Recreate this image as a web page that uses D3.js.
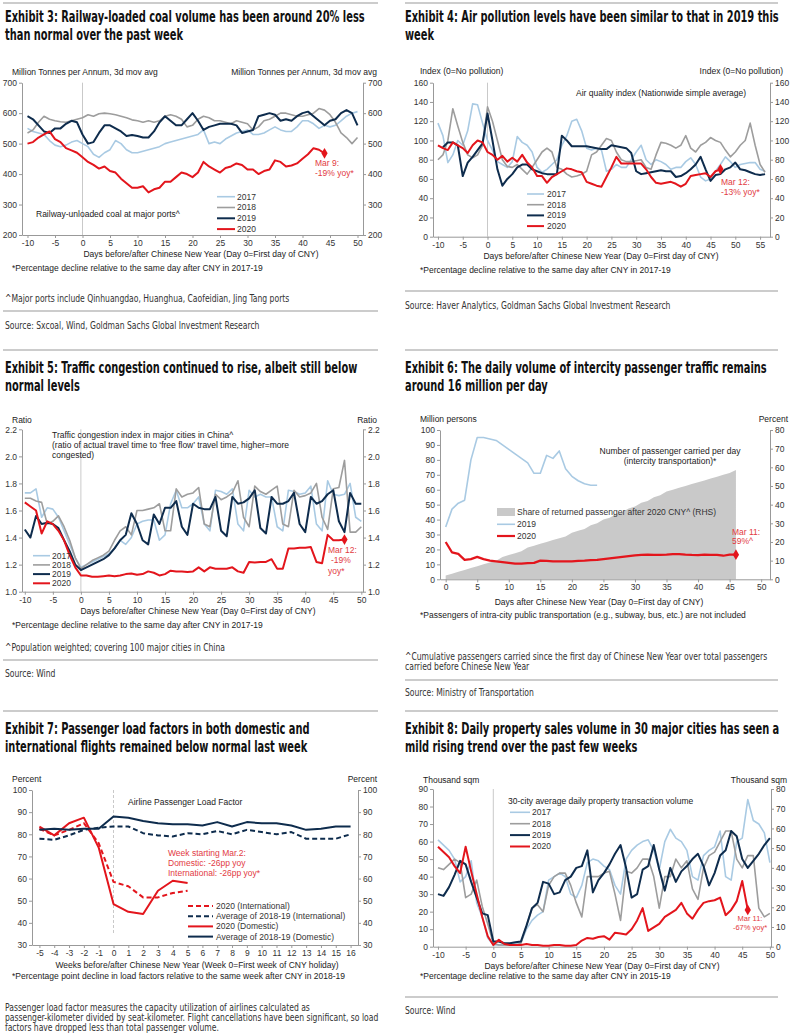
<!DOCTYPE html>
<html>
<head>
<meta charset="utf-8">
<script src="https://cdn.jsdelivr.net/npm/d3@7"></script>
<style>
body { margin: 0; background: #fff; }
svg { display: block; }
text { font-family: "Liberation Sans", Arial, sans-serif; fill: #222; }
.ttl { font-family: "Liberation Sans Narrow", "Arial Narrow", "DejaVu Sans Condensed", sans-serif; font-weight: bold; font-size: 15px; fill: #111; }
.src { font-family: "Liberation Sans Narrow", "Arial Narrow", "DejaVu Sans Condensed", sans-serif; font-size: 10px; fill: #333; }
</style>
</head>
<body>
<svg id="page"></svg>
<script>
// ---- data ----

// Exhibit 3: coal, Mt per annum, days -10..50
const coalDays = d3.range(-10, 51)
const coal2017 = [550,540,535,530,510,495,490,495,505,510, 500,490,465,455,470,480,510,500,480,470,
  470,475,480,485,490,500,505,510,515,520, 525,530,545,500,505,500,515,525,535,540,
  545,530,530,535,545,555,545,540,540,555, 575,575,565,550,560,555,560,575,590,600, 605]
const coal2018 = [535,545,570,590,580,575,572,570,575,580, 585,595,590,598,600,598,595,590,585,578,
  575,570,575,570,575,590,595,590,580,555, 560,580,590,585,575,575,570,565,575,570,
  565,545,555,575,580,590,600,600,595,590, 590,595,600,615,610,595,570,535,520,500, 520]
const coal2019 = [590,580,560,540,535,550,550,565,575,570, 530,500,505,535,560,560,550,540,525,528,
  525,520,520,540,570,590,575,560,560,580, 600,575,545,555,560,565,565,565,560,535,
  540,545,590,595,600,595,575,580,575,590, 600,605,590,575,560,575,580,600,610,600, 560]
const coal2020 = [500,505,520,530,540,515,505,485,478,470, 455,440,430,418,425,410,405,385,370,355,
  355,360,340,350,355,375,375,390,405,400, 390,405,440,425,415,405,420,425,435,430,
  415,415,400,410,415,445,440,425,428,435, 450,465,485,480,468]

// Exhibit 4: air quality index, days -10..56
const aqiDays = d3.range(-10, 57)
const aqi2017 = [118,105,77,85,100,95,110,138,137,118, 100,90,78,75,72,78,104,98,95,88,
  72,67,70,75,80,95,105,120,122,110, 92,90,92,90,68,70,75,72,72,80,
  88,95,80,75,80,78,75,70,72,72, 78,82,75,62,58,60,68,75,83,78, 72,75,76,77,77,70,68]
const aqi2018 = [80,85,100,133,115,98,85,82,85,95, 135,120,100,80,73,72,75,70,65,72,
  80,88,92,88,72,70,65,62,63,65, 68,85,88,95,102,100,88,80,78,78,
  79,80,72,70,85,98,97,95,92,95, 105,92,88,95,98,103,100,98,90,83, 88,95,100,118,95,75,67]
const aqi2019 = [null,93,98,98,95,63,77,83,90,97, 128,100,70,53,60,65,72,75,75,70,
  68,66,65,65,65,105,100,94,94,94, 94,93,92,91,91,95,94,93,92,87,
  68,65,66,67,68,69,68,68,62,63, 66,70,75,83,70,58,64,65,70,72, 77,70,69,67,65,64,65]
const aqi2020 = [95,92,90,98,95,92,87,95,100,98, 88,85,80,84,78,82,78,85,77,72,
  63,63,56,62,65,68,71,70,68,67, 57,55,53,52,62,72,83,76,76,76,
  76,76,70,62,56,55,56,57,55,52, 55,63,64,65,66,62,68,70]

// Exhibit 5: traffic congestion ratio, days -10..50
const congDays = d3.range(-10, 51)
const cong2017 = [1.73,1.73,1.76,1.55,1.62,1.61,1.55,1.45,1.35,1.25, 1.18,1.2,1.22,1.24,1.26,1.28,1.32,1.38,1.35,1.4,
  1.5,1.52,1.53,1.53,1.38,1.42,1.65,1.75,1.62,1.62, 1.65,1.7,1.5,1.45,1.75,1.74,1.72,1.76,1.5,1.45,
  1.75,1.7,1.72,1.7,1.7,1.48,1.45,1.75,1.74,1.72, 1.73,1.78,1.5,1.45,1.82,1.72,1.71,1.72,1.8,1.55, 1.52]
const cong2018 = [1.69,1.69,1.67,1.66,1.5,1.52,1.56,1.48,1.38,1.25, 1.17,1.2,1.23,1.25,1.27,1.3,1.38,1.45,1.48,1.42,
  1.6,1.6,1.61,1.62,1.65,1.45,1.45,1.76,1.7,1.72, 1.73,1.77,1.5,1.48,1.72,1.68,1.7,1.73,1.82,1.55,
  1.48,1.78,1.74,1.72,1.75,1.78,1.5,1.48,1.75,1.7, 1.71,1.73,1.8,1.55,1.46,1.76,1.77,1.97,1.44,1.44, 1.48]
const cong2019 = [1.46,1.4,1.56,1.5,1.51,1.5,1.47,1.38,1.3,1.2, 1.16,1.18,1.2,1.22,1.24,1.27,1.32,1.38,1.42,1.58,
  1.5,1.38,1.35,1.57,1.5,1.62,1.62,1.67,1.48,1.42, 1.65,1.62,1.61,1.61,1.7,1.45,1.41,1.7,1.65,1.66,
  1.69,1.75,1.47,1.43,1.7,1.65,1.65,1.67,1.73,1.5, 1.44,1.7,1.65,1.67,1.72,1.75,1.52,1.44,1.73,1.65, 1.65]
const cong2020 = [1.66,1.63,1.6,1.43,1.52,1.5,1.45,1.38,1.27,1.18, 1.12,1.12,1.11,1.11,1.115,1.12,1.115,1.12,1.13,1.135,
  1.125,1.13,1.15,1.14,1.12,1.13,1.155,1.15,1.15,1.145, 1.15,1.18,1.15,1.18,1.17,1.17,1.17,1.18,1.15,1.14,
  1.22,1.215,1.22,1.22,1.24,1.17,1.17,1.32,1.32,1.325, 1.325,1.33,1.22,1.21,1.42,1.38,1.38,1.385]

// Exhibit 6: intercity passengers (million, LHS) and share returned (% , RHS), days 0..46
const paxDays = d3.range(0, 47)
const pax2019 = [35,47,51,53,80,95,95,94,93,90, 87,84,81,78,71,71,83,81,86,74, 69,66,64,63,63]
const pax2020 = [25,18,17,13,13.5,15,13.5,12.5,12,11.5, 11,10.5,10.5,10.8,11,12.5,12.3,12,12,12,
  12,12.3,12.5,12.8,13,13.5,14,14.5,15,15.5, 16,16.3,16.5,16.3,16.3,16.5,16.8,16.8,16.5,16.3,
  16.2,16.5,16.3,16.3,15.8,16.5,16.5]
const paxShare = [2,3,4,5,6,7,8,9,10,12, 13,14,15,17,18,19,20,21,22,23,
  25,26,27,29,30,32,33,35,36,38, 39,41,42,44,45,47,48,49,50,51, 52,53,54,55,56,57,58.5]

// Exhibit 7: airline load factor, percent, weeks -5..16
const loadWeeks = d3.range(-5, 17)
const loadIntl2020 = [82.5,79.5,82,85,76,58.5,56.5,51.5,51.5,53.5,54.5]
const loadIntlAvg = [78,77.5,79.5,82,83,83.5,83.5,80.5,79.5,79,80.5,80,81.5,80,82,81,80,81,78,78,78,80]
const loadDom2020 = [83.5,79.5,85,87.5,74,48.5,45,44,54.5,59,58]
const loadDomAvg = [82,82.5,82,82.5,82.5,88,87.5,86,85,84.5,84.5,84,85.5,83.5,85.5,85,85,84,82,82.5,83.5,83.5]

// Exhibit 8: property sales, thousand sqm, days -10..50
const propDays = d3.range(-10, 51)
const prop2017 = [61,58,55,50,37,40,49,25,17,5, 1,1,1,1.5,2,2.5,10,15,18,20,
  38,40,42,40,30,28,35,48,50,49, 46,44,35,30,50,55,58,60,61,55,
  44,60,67,62,60,55,40,38,52,55, 57,66,40,38,60,62,84,72,70,65, 48]
const prop2018 = [45,44,47,50,48,28,30,38,23,13, 2,1,1,1,1,2,12,22,24,20,
  35,40,42,42,35,25,17,40,40,40, 42,43,30,15,43,42,45,50,50,40,
  22,40,40,50,45,49,33,27,45,52, 54,60,66,66,50,45,52,52,22,17, 19]
const prop2019 = [30,29,34,41,49,47,37,28,19,18, 3,3,2,2,2.5,3,12,22,25,37,
  36,30,31,38,40,45,46,55,31,38, 42,47,53,58,45,28,30,44,46,58,
  44,32,45,37,43,46,50,53,46,35, 42,52,55,66,63,50,45,49,53,58, 62]
const prop2020 = [57,54,51,46,42,57,43,30,17,6, 1,4,1.5,1,1,1,1.5,1,1,0.5,
  0.5,1,1,0.5,0.5,1,3.5,5,4.5,5.5, 6,4,8,7.5,7,10,15,22,9,11,
  13,17,19,21,25,19,16,21,25,26, 26.5,28,18,21,26,37.5,21]

// ---- page ----
const width = 800
const height = 1036
const C17 = '#a9cae3', C18 = '#9d9d9d', C19 = '#0e2c4d', C20 = '#e3151c', ANN = '#e23a43'
const svg = d3.select('#page').attr('width', width).attr('height', height)

// rules between blocks
const rules = [[3,378,3],[405,778,3],[3,378,311],[405,778,291],[3,378,350],[405,778,350],
  [3,378,660],[405,778,680],[3,378,711],[405,778,711],[405,778,997]]
rules.forEach(r => svg.append('line').attr('x1', r[0]).attr('x2', r[1]).attr('y1', r[2]).attr('y2', r[2])
  .attr('stroke', '#9a9a9a').attr('stroke-width', 1.2))

// titles, squeezed to the condensed look of the original
const titles = [
  [5, 22, 'Exhibit 3: Railway-loaded coal volume has been around 20% less'],
  [5, 40, 'than normal over the past week'],
  [405, 22, 'Exhibit 4: Air pollution levels have been similar to that in 2019 this'],
  [405, 40, 'week'],
  [5, 373, 'Exhibit 5: Traffic congestion continued to rise, albeit still below'],
  [5, 391, 'normal levels'],
  [405, 373, 'Exhibit 6: The daily volume of intercity passenger traffic remains'],
  [405, 391, 'around 16 million per day'],
  [5, 734, 'Exhibit 7: Passenger load factors in both domestic and'],
  [5, 752, 'international flights remained below normal last week'],
  [405, 734, 'Exhibit 8: Daily property sales volume in 30 major cities has seen a'],
  [405, 752, 'mild rising trend over the past few weeks']
]
const sources = [
  [5, 301.5, '^Major ports include Qinhuangdao, Huanghua, Caofeidian, Jing Tang ports'],
  [5, 328.5, 'Source: Sxcoal, Wind, Goldman Sachs Global Investment Research'],
  [405, 308.5, 'Source: Haver Analytics, Goldman Sachs Global Investment Research'],
  [5, 650.5, '^Population weighted; covering 100 major cities in China'],
  [5, 676.5, 'Source: Wind'],
  [405, 659.5, '^Cumulative passengers carried since the first day of Chinese New Year over total passengers'],
  [405, 669.5, 'carried before Chinese New Year'],
  [405, 695.5, 'Source: Ministry of Transportation'],
  [5, 1010.5, 'Passenger load factor measures the capacity utilization of airlines calculated as'],
  [5, 1020.5, 'passenger-kilometer divided by seat-kilometer. Flight cancellations have been significant, so load'],
  [5, 1030.5, 'factors have dropped less than total passenger volume.'],
  [405, 1013.5, 'Source: Wind']
]
function squeezed(rows, cls, refWidth) {
  const nodes = rows.map(r => svg.append('text').attr('class', cls).text(r[2]))
  const k = Math.min(1, refWidth / nodes[cls === 'ttl' ? 0 : 1].node().getComputedTextLength())
  nodes.forEach((n, i) => n.attr('transform', `translate(${rows[i][0]},${rows[i][1]}) scale(${k},1)`))
}
squeezed(titles, 'ttl', 360)
squeezed(sources, 'src', 255)

// ---- helpers ----
function txt(x, y, s, o = {}) {
  return svg.append('text').attr('x', x).attr('y', y).attr('dy', '0.35em')
    .attr('font-size', o.size || 8.5).attr('text-anchor', o.anchor || 'start')
    .style('fill', o.color || '#222').text(s)
}

function panel(o) {
  const g = svg.append('g')
  const x = d3.scaleLinear().domain(o.xd).range(o.x)
  const y = d3.scaleLinear().domain(o.yd).range(o.y)
  const yR = d3.scaleLinear().domain(o.ydR || o.yd).range(o.y)
  const fmt = o.fmt || (d => String(d))
  const style = sel => {
    sel.attr('font-size', 8.5)
    sel.select('.domain').attr('stroke', '#999')
    sel.selectAll('.tick line').attr('stroke', '#999')
    sel.selectAll('text').style('fill', '#333')
  }
  g.append('g').attr('transform', `translate(${o.x[0]},0)`)
    .call(d3.axisLeft(y).tickValues(o.yt).tickFormat(fmt).tickSize(3).tickSizeOuter(0).tickPadding(2)).call(style)
  g.append('g').attr('transform', `translate(${o.x[1]},0)`)
    .call(d3.axisRight(yR).tickValues(o.ytR || o.yt).tickFormat(fmt).tickSize(3).tickSizeOuter(0).tickPadding(2)).call(style)
  g.append('g').attr('transform', `translate(0,${o.y[0]})`)
    .call(d3.axisBottom(x).tickValues(o.xt).tickFormat(d => String(d)).tickSize(3).tickSizeOuter(0).tickPadding(2)).call(style)
  if (o.zero) {
    g.append('line').attr('x1', x(0)).attr('x2', x(0)).attr('y1', o.y[1]).attr('y2', o.y[0] - (o.zeroGap || 0))
      .attr('stroke', '#bbb').attr('stroke-width', 0.8).attr('stroke-dasharray', o.zeroDash || null)
  }
  return { g, x, y, yR }
}

function series(p, xs, ys, color, w, dash, scale) {
  const ys2 = scale || p.y
  p.g.append('path')
    .datum(xs.map((d, i) => [d, ys[i]]))
    .attr('fill', 'none').attr('stroke', color).attr('stroke-width', w)
    .attr('stroke-dasharray', dash || null).attr('stroke-linejoin', 'round')
    .attr('d', d3.line().defined(d => d[1] != null).x(d => p.x(d[0])).y(d => ys2(d[1])))
}

function endMark(p, xs, ys) {
  const i = ys.length - 1
  p.g.append('path').attr('d', d3.symbol(d3.symbolDiamond, 34)())
    .attr('transform', `translate(${p.x(xs[i])},${p.y(ys[i])})`).attr('fill', C20)
}

function legend(x0, x1, tx, y0, step, items) {
  items.forEach((it, i) => {
    const y = y0 + i * step
    svg.append('line').attr('x1', x0).attr('x2', x1).attr('y1', y).attr('y2', y)
      .attr('stroke', it[1]).attr('stroke-width', it[2]).attr('stroke-dasharray', it[3] || null)
    txt(tx, y, it[0], { color: '#333' })
  })
}

// ---- Exhibit 3 ----
const p1 = panel({ x: [22, 363], xd: [-11, 51], y: [235, 82.7], yd: [200, 700],
  xt: d3.range(-10, 51, 5), yt: d3.range(200, 701, 100), zero: true })
series(p1, coalDays, coal2017, C17, 1.6)
series(p1, coalDays, coal2018, C18, 1.6)
series(p1, coalDays, coal2019, C19, 2)
series(p1, coalDays, coal2020, C20, 2)
endMark(p1, coalDays, coal2020)
txt(12, 71.7, 'Million Tonnes per Annum, 3d mov avg')
txt(377, 71.7, 'Million Tonnes per Annum, 3d mov avg', { anchor: 'end' })
txt(315, 163.5, 'Mar 9:', { color: ANN })
txt(315, 173.5, '-19% yoy*', { color: ANN })
txt(36, 214, 'Railway-unloaded coal at major ports^')
legend(217, 235, 237, 196.7, 10.8, [['2017', C17, 1.6], ['2018', C18, 1.6], ['2019', C19, 2], ['2020', C20, 2]])
txt(201, 254.5, 'Days before/after Chinese New Year (Day 0=First day of CNY)', { anchor: 'middle' })
txt(12, 268.5, '*Percentage decline relative to the same day after CNY in 2017-19')

// ---- Exhibit 4 ----
const p2 = panel({ x: [433, 770], xd: [-11, 57], y: [236.7, 82.7], yd: [0, 160],
  xt: d3.range(-10, 56, 5), yt: d3.range(0, 161, 20), zero: true })
series(p2, aqiDays, aqi2017, C17, 1.6)
series(p2, aqiDays, aqi2018, C18, 1.6)
series(p2, aqiDays, aqi2019, C19, 2)
series(p2, aqiDays, aqi2020, C20, 2)
endMark(p2, aqiDays, aqi2020)
txt(420, 70.7, 'Index (0=No pollution)')
txt(783, 70.7, 'Index (0=No pollution)', { anchor: 'end' })
txt(576, 93, 'Air quality index (Nationwide simple average)')
txt(721, 182.5, 'Mar 12:', { color: ANN })
txt(721, 192.5, '-13% yoy*', { color: ANN })
legend(527, 544, 547, 194, 10.7, [['2017', C17, 1.6], ['2018', C18, 1.6], ['2019', C19, 2], ['2020', C20, 2]])
txt(601, 256, 'Days before/after Chinese New Year (Day 0=First day of CNY)', { anchor: 'middle' })
txt(420, 270, '*Percentage decline relative to the same day after CNY in 2017-19')

// ---- Exhibit 5 ----
const p3 = panel({ x: [22, 363], xd: [-10.5, 50.3], y: [591.7, 429.3], yd: [1.0, 2.2],
  xt: d3.range(-10, 51, 5), yt: [1.0, 1.2, 1.4, 1.6, 1.8, 2.0, 2.2], fmt: d3.format('.1f'), zero: true })
series(p3, congDays, cong2017, C17, 1.6)
series(p3, congDays, cong2018, C18, 1.6)
series(p3, congDays, cong2019, C19, 2)
series(p3, congDays, cong2020, C20, 2)
endMark(p3, congDays, cong2020)
txt(12, 420, 'Ratio')
txt(377, 420, 'Ratio', { anchor: 'end' })
txt(52, 435, 'Traffic congestion index in major cities in China^')
txt(52, 445, '(ratio of actual travel time to \u2018free flow\u2019 travel time, higher=more')
txt(52, 455, 'congested)')
txt(328, 550, 'Mar 12:', { color: ANN })
txt(331, 560.5, '-19%', { color: ANN })
txt(328, 571, 'yoy*', { color: ANN })
legend(33, 50, 52, 555.7, 9.2, [['2017', C17, 1.6], ['2018', C18, 1.6], ['2019', C19, 2], ['2020', C20, 2]])
txt(198, 611.5, 'Days before/after Chinese New Year (Day 0=First day of CNY)', { anchor: 'middle' })
txt(12, 625.5, '*Percentage decline relative to the same day after CNY in 2017-19')

// ---- Exhibit 6 ----
const p4 = panel({ x: [440, 770], xd: [-0.9, 51.4], y: [579.3, 430], yd: [0, 100], ydR: [0, 80],
  xt: d3.range(0, 51, 5), yt: d3.range(0, 101, 10), ytR: d3.range(0, 81, 10) })
p4.g.insert('path', ':first-child')
  .datum(paxDays.map((d, i) => [d, paxShare[i]]))
  .attr('fill', '#c9c9c9')
  .attr('d', d3.area().x(d => p4.x(d[0])).y0(p4.yR(0)).y1(d => p4.yR(d[1])))
series(p4, paxDays, pax2019, C17, 1.6)
series(p4, paxDays, pax2020, C20, 2.2)
endMark(p4, paxDays, pax2020)
txt(420, 419.3, 'Million persons')
txt(788, 419.3, 'Percent', { anchor: 'end' })
txt(670, 450.7, 'Number of passenger carried per day', { anchor: 'middle' })
txt(670, 460.7, '(intercity transportation)*', { anchor: 'middle' })
txt(732, 531.7, 'Mar 11:', { color: ANN })
txt(732, 541.5, '59%^', { color: ANN })
svg.append('rect').attr('x', 497).attr('y', 508).attr('width', 18).attr('height', 8).attr('fill', '#c9c9c9')
txt(517, 512, 'Share of returned passenger after 2020 CNY^ (RHS)', { color: '#333' })
legend(497, 515, 517, 524.3, 11.7, [['2019', C17, 1.6], ['2020', C20, 2.2]])
txt(599, 602.5, 'Days after Chinese New Year (Day 0=First day of CNY)', { anchor: 'middle' })
txt(420, 615.5, '*Passengers of intra-city public transportation (e.g., subway, bus, etc.) are not included')

// ---- Exhibit 7 ----
const p5 = panel({ x: [32, 358], xd: [-5.5, 16.5], y: [945, 790], yd: [30, 100],
  xt: d3.range(-5, 17), yt: d3.range(30, 101, 10), zero: true, zeroDash: '3,2', zeroGap: 10 })
series(p5, loadWeeks, loadIntl2020, C20, 2, '5,3')
series(p5, loadWeeks, loadIntlAvg, C19, 2, '5,3')
series(p5, loadWeeks, loadDom2020, C20, 2)
series(p5, loadWeeks, loadDomAvg, C19, 2)
txt(12, 779.3, 'Percent')
txt(377, 779.3, 'Percent', { anchor: 'end' })
txt(128, 801.7, 'Airline Passenger Load Factor')
txt(168, 853.3, 'Week starting Mar.2:', { color: ANN })
txt(168, 863.3, 'Domestic: -26pp yoy', { color: ANN })
txt(168, 873.3, 'International: -26pp yoy*', { color: ANN })
legend(188, 213, 216, 906, 10.2, [['2020 (International)', C20, 2, '5,3'], ['Average of 2018-19 (International)', C19, 2, '5,3'],
  ['2020 (Domestic)', C20, 2], ['Average of 2018-19 (Domestic)', C19, 2]])
txt(197, 965, 'Weeks before/after Chinese New Year (Week 0=First week of CNY holiday)', { anchor: 'middle' })
txt(12, 976, '*Percentage point decline in load factors relative to the same week after CNY in 2018-19')

// ---- Exhibit 8 ----
const p6 = panel({ x: [433, 771], xd: [-10.9, 50.2], y: [946.7, 789], yd: [0, 90], ydR: [0, 80],
  xt: d3.range(-10, 51, 5), yt: d3.range(0, 91, 10), ytR: d3.range(0, 81, 10), zero: true })
series(p6, propDays, prop2017, C17, 1.6)
series(p6, propDays, prop2018, C18, 1.6)
series(p6, propDays, prop2019, C19, 2)
series(p6, propDays, prop2020, C20, 2)
endMark(p6, propDays, prop2020)
txt(423, 780, 'Thousand sqm')
txt(787, 780, 'Thousand sqm', { anchor: 'end' })
txt(508, 800.7, '30-city average daily property transaction volume')
legend(510, 530, 532, 812.3, 11.4, [['2017', C17, 1.6], ['2018', C18, 1.6], ['2019', C19, 2], ['2020', C20, 2]])
txt(750, 918.5, 'Mar 11:', { color: ANN, anchor: 'middle', size: 7.5 })
txt(750, 927, '-67% yoy*', { color: ANN, anchor: 'middle', size: 7.5 })
txt(602, 966, 'Days before/after Chinese New Year (Day 0=First day of CNY)', { anchor: 'middle' })
txt(420, 976, '*Percentage decline relative to the same day after CNY in 2015-19')
</script>
</body>
</html>
